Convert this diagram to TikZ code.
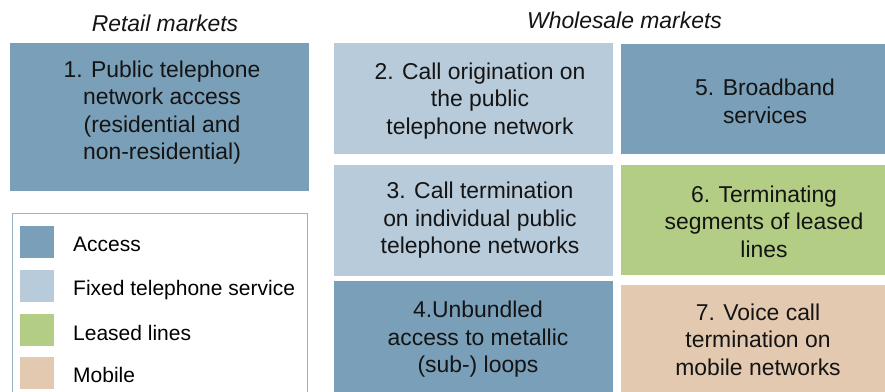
\documentclass[tikz,border=0pt]{standalone}
\usepackage{fontspec}
\setmainfont{Liberation Sans}
\definecolor{accessc}{HTML}{7A9FB8}
\definecolor{fixedc}{HTML}{B8CBDA}
\definecolor{leasedc}{HTML}{B3CE84}
\definecolor{mobilec}{HTML}{E2C9B0}
\definecolor{legborder}{HTML}{9BB3C6}
\definecolor{txt}{HTML}{141414}
\begin{document}
\begin{tikzpicture}[x=1pt,y=-1pt,
  mbox/.style={fill=#1, draw=none, inner sep=0pt, outer sep=0pt},
  mtext/.style={inner sep=0pt, align=center, text=txt,
    font=\fontsize{22.9}{27.5}\selectfont},
  ttl/.style={inner sep=0pt, anchor=base, text=txt,
    font=\fontsize{22.9}{27.5}\selectfont\itshape},
  swatch/.style={fill=#1, draw=none, inner sep=0pt, minimum width=34pt, minimum height=32pt},
  legtext/.style={inner sep=0pt, anchor=base west, text=black,
    font=\fontsize{21}{25}\selectfont}]
\useasboundingbox (0,0) rectangle (885,391);
\clip (0,0) rectangle (885,391);

% titles
\node[ttl] (tretail) at (165,31) {Retail markets};
\node[ttl] (twhole) at (624.5,28) {Wholesale markets};

% boxes
\node[mbox=accessc, minimum width=299pt, minimum height=148pt] (b1) at (159.5,117) {};
\node[mbox=fixedc,  minimum width=279pt, minimum height=111pt] (b2) at (473.5,98.5) {};
\node[mbox=fixedc,  minimum width=279pt, minimum height=111pt] (b3) at (473.5,220.5) {};
\node[mbox=accessc, minimum width=279pt, minimum height=120pt] (b4) at (473.5,341) {};
\node[mbox=accessc, minimum width=286pt, minimum height=110pt] (b5) at (764,99) {};
\node[mbox=leasedc, minimum width=286pt, minimum height=110pt] (b6) at (764,220) {};
\node[mbox=mobilec, minimum width=286pt, minimum height=116pt] (b7) at (764,343) {};

% box texts
\node[mtext] (t1) at (162,112.5) {1. Public telephone\\network access\\(residential and\\non-residential)};
\node[mtext] (t2) at (480,101) {2. Call origination on\\the public\\telephone network};
\node[mtext] (t3) at (480,220.5) {3. Call termination\\on individual public\\telephone networks};
\node[mtext] (t4) at (478,339.5) {4.Unbundled\\access to metallic\\(sub-) loops};
\node[mtext] (t5) at (765,101.5) {5. Broadband\\services};
\node[mtext] (t6) at (764,221.5) {6. Terminating\\segments of leased\\lines};
\node[mtext] (t7) at (758,339.5) {7. Voice call\\termination on\\mobile networks};

% legend
\draw[legborder, line width=1pt] (12,400) -- (12,213) -- (307,213) -- (307,400);
\node[swatch=accessc] (s1) at (37,242) {};
\node[swatch=fixedc]  (s2) at (37,286) {};
\node[swatch=leasedc] (s3) at (37,330) {};
\node[swatch=mobilec] (s4) at (37,372.5) {};
\node[legtext] (l1) at (73,251) {Access};
\node[legtext] (l2) at (73,295) {Fixed telephone service};
\node[legtext] (l3) at (73,340) {Leased lines};
\node[legtext] (l4) at (73,382) {Mobile};
\end{tikzpicture}
\end{document}
